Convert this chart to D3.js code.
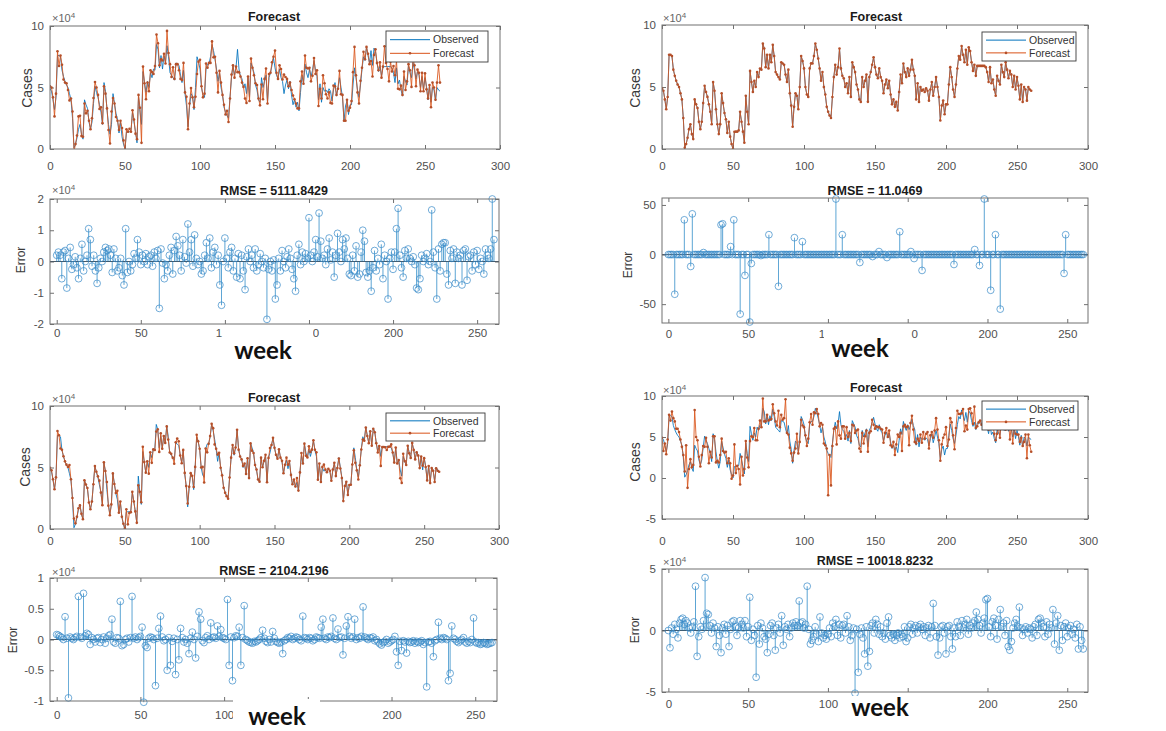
<!DOCTYPE html>
<html><head><meta charset="utf-8">
<script src="https://cdn.jsdelivr.net/npm/d3@7/dist/d3.min.js"></script>
<style>
body{margin:0;background:#fff;}
svg{display:block;font-family:"Liberation Sans",Arial,sans-serif;}
</style></head><body>
<svg id="c" width="1166" height="731"></svg>
<script>
// ---------------- DATA ----------------
// observed weekly cases, in units of 1e4 (weeks 0..260)
const observed = [
4.9,4.7,4.0,3.2,4.2,7.6,7.6,7.5,6.4,5.9,
5.5,5.2,5.0,4.5,4.0,2.5,0.1,0.4,0.9,1.6,
2.0,1.2,0.8,4.0,3.6,3.3,2.2,1.6,2.2,3.7,
5.1,4.6,4.2,3.6,3.0,2.0,5.4,4.7,3.2,2.0,
1.2,2.0,4.5,3.7,2.9,2.4,1.3,2.2,1.0,0.4,
0.0,1.4,1.4,1.4,1.5,3.0,2.2,1.4,0.5,4.3,
3.0,2.0,6.3,5.4,4.6,5.5,5.0,6.2,5.8,6.5,
6.4,8.5,8.1,6.6,7.6,6.5,7.6,7.0,8.4,7.5,
6.2,6.0,5.8,5.6,7.0,6.9,6.8,6.0,5.4,6.4,
4.5,3.5,1.8,3.4,4.5,4.3,3.2,5.0,7.5,7.1,
6.5,5.0,4.4,4.2,6.5,6.9,6.9,7.5,8.5,8.0,
7.3,6.5,5.5,6.2,5.0,4.4,3.4,3.0,2.7,2.5,
4.2,5.8,6.8,6.0,6.6,8.1,6.5,5.9,5.7,5.0,
5.3,4.5,5.8,4.2,7.0,6.6,6.2,5.2,4.8,4.0,
3.8,5.8,5.0,5.5,6.0,3.8,5.8,6.2,6.8,7.4,
6.6,6.0,5.7,6.5,5.8,5.5,4.5,5.2,5.6,4.9,
5.5,4.4,3.6,4.0,3.4,3.8,3.1,4.6,6.0,5.3,
6.9,6.2,5.8,6.5,5.9,6.4,7.2,6.4,5.9,4.0,
5.3,3.8,5.0,4.7,4.8,4.6,4.9,4.7,3.9,4.8,
5.4,4.3,5.0,5.8,5.0,4.2,2.3,3.5,3.9,2.8,
3.6,3.6,5.2,6.6,5.8,4.8,4.2,5.2,6.5,7.5,
7.2,8.3,7.6,7.0,8.0,6.8,8.2,7.9,7.0,6.3,
6.8,5.9,6.7,6.7,6.7,6.7,6.7,6.7,6.6,6.2,
5.4,6.6,5.3,5.6,4.8,4.3,5.9,5.5,5.2,6.8,
6.2,5.8,7.0,6.4,5.7,6.3,6.0,5.0,5.9,4.8,
5.8,5.1,4.0,5.2,3.8,5.0,4.8,3.9,5.0,4.8,4.7];

// forecast error (forecast - observed), model 1, units 1e4
const errorModel1 = [
0.2,0.3,0.2,-0.55,0.3,0.35,-0.85,0.1,0.45,-0.25,
-0.1,0.15,-0.2,-0.55,0.1,0.55,-0.3,0.0,0.2,1.05,
0.7,-0.15,0.2,-0.3,-0.7,-0.2,0.1,0.0,0.3,0.45,
0.35,0.4,0.2,-0.35,0.4,0.1,-0.3,-0.2,0.1,-0.45,
-0.75,1.05,-0.35,0.0,-0.3,-0.1,0.25,0.1,0.7,0.3,
-0.1,0.2,0.0,0.25,-0.1,0.15,0.2,-0.15,0.3,0.1,
0.35,-1.5,0.4,-0.05,-0.55,-0.1,-0.3,0.2,0.45,-0.4,
0.35,0.8,0.5,0.2,-0.3,0.7,0.15,-0.05,1.2,0.3,
0.7,-0.15,0.85,0.1,-0.1,0.0,-0.4,-0.3,0.2,0.6,
0.1,0.75,-0.2,0.3,0.45,-0.1,0.2,-0.75,-1.4,0.0,
0.75,0.1,-0.2,0.3,0.45,-0.3,0.1,-0.5,0.25,-0.55,
0.2,-0.3,-0.9,0.15,0.4,0.0,0.2,-0.2,0.4,-0.3,
-0.1,0.25,0.0,-0.2,0.1,-1.85,-0.25,0.0,-0.3,0.05,
-1.2,-0.75,0.1,-0.3,0.35,0.0,-0.2,0.15,0.4,0.1,
-0.25,-0.55,-0.95,0.2,0.55,-0.1,0.3,0.0,0.25,0.1,
1.4,0.2,0.0,0.3,0.7,0.15,1.55,0.65,0.1,0.2,
-0.1,0.4,0.75,0.05,0.3,-0.5,0.2,0.9,0.3,0.0,
0.7,0.4,0.75,0.1,-0.4,-0.45,0.2,-0.3,0.5,-0.5,
-0.4,0.3,1.0,0.65,-0.35,-0.5,-0.3,-0.95,-0.2,0.35,
-0.3,0.1,-0.1,0.55,-0.55,0.2,0.0,-1.2,0.1,0.3,
-0.25,0.3,1.05,1.7,0.2,-0.2,-0.5,0.35,0.1,0.4,
0.1,0.0,0.15,-0.1,-0.85,-0.9,-0.55,0.2,0.0,0.1,
0.25,-0.1,0.0,1.65,0.3,-0.2,-1.2,0.4,-0.3,0.55,
0.6,0.6,-0.4,-0.75,0.35,0.1,0.4,-0.7,0.3,0.1,
0.2,-0.75,0.35,0.4,-0.6,0.15,0.2,-0.3,0.3,-0.1,
0.35,-0.25,0.1,0.0,-0.4,0.4,0.2,0.1,0.4,2.0,0.7];

// model 2 error, raw cases
const errorModel2 = [
0,0,0,0,-40,0,0,0,0,0,
35,0,0,0,-12,41,0,0,0,0,
0,0,2,0,0,0,0,0,0,0,
0,0,0,30,31,0,0,0,0,8,
0,35,0,0,0,-60,0,0,-21,0,
0,-68,-9,0,0,0,0,0,-1,0,
0,0,0,20,0,0,0,0,0,-32,
0,0,0,0,0,0,0,0,0,17,
0,0,0,0,13,0,0,0,0,0,
0,0,0,0,0,0,0,0,0,0,
0,0,0,0,0,56,0,0,0,20,
0,0,0,0,0,0,0,0,0,0,
-8,0,0,0,0,0,0,0,-2,0,
0,0,3,0,0,0,0,-3,0,0,
0,0,0,0,0,23,0,0,0,0,
0,0,3,0,-4,0,0,0,0,-16,
0,0,0,0,0,0,0,0,0,0,
0,0,0,0,0,0,0,0,0,-10,
0,0,0,0,0,0,0,0,0,0,
0,0,5,0,0,-11,0,0,56,0,
0,0,-36,0,0,20,0,0,-55,0,
0,0,0,0,0,0,0,0,0,0,
0,0,0,0,0,0,0,0,0,0,
0,0,0,0,0,0,0,0,0,0,
0,0,0,0,0,0,0,0,-19,20,
0,0,0,0,0,0,0,0,0,0,0];

// model 3 error, units 1e4
const errorModel3 = [
0.08,0.07,0.05,0.03,0.0,0.37,0.02,-0.95,0.04,0.02,
0.0,0.03,0.05,0.7,0.04,0.02,0.75,0.06,0.1,0.08,
-0.08,0.03,0.0,-0.04,0.02,0.03,-0.05,0.0,0.04,-0.06,
0.02,0.06,0.08,0.33,-0.04,-0.06,0.03,0.02,0.62,-0.1,
-0.08,0.0,0.02,-0.04,0.03,0.7,0.02,0.04,0.0,0.03,
0.05,0.2,-1.02,-0.1,-0.13,0.02,0.04,0.03,0.0,-0.75,
0.02,0.18,0.38,0.04,-0.02,0.0,-0.5,0.03,-0.42,-0.03,
0.02,-0.57,0.0,-0.33,0.18,0.03,-0.04,0.0,-0.06,-0.23,
0.02,0.12,0.0,-0.3,0.05,0.45,0.33,-0.02,-0.05,0.03,
0.06,0.0,0.27,0.03,0.04,0.02,0.22,0.05,0.16,0.03,
0.02,0.0,0.65,-0.42,0.04,-0.67,0.03,0.06,0.05,0.2,
-0.42,0.03,0.55,0.0,-0.02,-0.04,-0.05,-0.06,-0.03,-0.04,
-0.02,0.0,0.03,0.15,0.02,-0.03,-0.05,0.0,-0.04,0.13,
0.02,-0.03,-0.05,-0.06,-0.04,-0.23,-0.02,0.0,0.03,0.02,
0.05,0.0,0.02,0.04,0.03,0.0,-0.02,0.38,0.03,0.02,
0.0,0.03,0.02,-0.02,0.0,0.04,0.03,0.02,0.2,0.33,
0.02,0.0,0.04,0.03,0.05,0.35,0.02,0.0,0.17,0.03,
0.04,-0.25,0.02,0.22,0.37,0.05,0.02,0.04,0.33,0.0,
0.03,0.02,0.05,0.53,0.04,0.02,0.0,0.03,0.02,0.04,
-0.02,0.0,-0.04,-0.07,-0.09,-0.05,-0.03,0.0,-0.06,-0.04,
-0.02,0.0,0.05,-0.2,-0.42,-0.03,-0.18,-0.02,-0.04,-0.22,
-0.03,-0.05,-0.04,-0.02,-0.06,-0.03,-0.05,-0.04,-0.02,-0.08,
-0.05,-0.77,-0.04,-0.03,-0.06,-0.28,-0.02,0.0,0.28,0.02,
0.0,0.03,0.02,0.0,-0.67,-0.55,0.22,0.02,0.0,-0.03,
-0.05,-0.02,0.0,0.03,-0.04,-0.06,-0.03,-0.05,0.0,0.35,
-0.04,-0.06,-0.05,-0.08,-0.07,-0.05,-0.06,-0.08,-0.07,-0.06,-0.05];

// model 4 error, units 1e4
const errorModel4 = [
0.0,-1.4,0.2,-0.3,0.5,0.1,-0.6,0.6,0.9,1.0,
0.5,0.8,0.6,0.2,-0.2,0.3,0.7,3.6,-2.1,-0.5,
0.3,0.1,0.8,4.3,1.4,1.3,0.4,-0.2,0.6,0.2,
-1.3,0.3,-0.4,-1.8,0.2,0.5,-0.3,0.4,-1.3,0.1,
0.7,0.8,0.3,-0.4,0.2,0.8,0.5,0.2,0.8,-0.5,
0.3,2.7,-0.8,0.1,-0.4,-3.8,0.4,-1.1,0.6,0.2,
-0.5,-0.7,-1.8,-0.3,0.4,0.6,-0.4,-1.6,0.2,0.5,
-0.2,1.2,-1.2,0.3,0.1,0.5,-0.5,0.2,0.6,0.4,
0.7,0.4,2.4,0.6,0.7,0.2,0.5,3.6,0.1,-1.1,
-0.8,-0.5,0.3,-0.3,-0.9,1.1,-0.2,-0.6,-0.4,-0.7,
-0.3,0.2,-0.5,0.6,0.3,0.9,-0.4,0.5,-0.6,0.4,
0.5,-0.2,1.2,0.3,-0.8,-0.4,0.2,-5.1,0.1,-3.4,
-0.3,0.2,-0.6,-1.9,0.3,-2.9,-1.7,0.4,0.6,-0.2,
0.9,0.5,-0.3,0.3,-0.5,-0.2,-0.7,0.6,1.1,-0.4,
-0.6,-0.3,-0.8,-0.4,-0.2,-0.6,-0.3,-0.5,0.3,-0.9,
-0.6,0.3,0.5,-0.3,0.2,0.4,-0.2,0.3,0.5,0.1,
0.3,-0.4,0.2,0.4,-0.6,0.3,2.2,0.4,-0.5,-2.0,
-0.6,0.3,0.4,-0.2,-1.9,0.3,0.4,-0.5,-1.5,0.2,
-0.5,0.7,0.3,-0.4,0.8,0.2,0.5,0.9,-0.3,0.4,
0.2,0.6,0.8,1.5,0.9,0.4,-0.2,0.6,1.0,2.5,
2.6,0.3,-0.5,0.7,1.0,0.4,-0.7,0.9,1.7,0.3,
0.6,-0.4,0.8,-1.3,-1.6,-0.9,0.2,0.6,0.9,0.3,
1.9,0.2,-0.4,0.1,0.3,-0.2,0.2,0.1,-0.6,0.3,
0.5,-0.4,0.9,1.0,0.6,0.3,-0.5,0.7,-0.3,0.5,
0.2,1.7,-1.1,0.6,1.2,-1.6,0.4,-0.8,0.3,0.6,
-0.5,0.2,0.4,-0.3,0.1,-0.6,0.5,-1.5,0.3,-0.8,-1.5];

const errors = [errorModel1, errorModel2, errorModel3, errorModel4];
const errorUnit = [1, 1e-4, 1, 1];          // conversion of each error array to 1e4 units
const rmseLabels = ["RMSE = 5111.8429","RMSE = 11.0469","RMSE = 2104.2196","RMSE = 10018.8232"];
const seriesNames = ["Observed","Forecast"];
const forecastXTicks = [0,50,100,150,200,250,300];
const errorXTicks = [0,50,100,150,200,250];
const casesTicks01 = [0,5,10];
const casesTicks4 = [-5,0,5,10];
const errTicks = [[-2,-1,0,1,2],[-50,0,50],[-1,-0.5,0,0.5,1],[-5,0,5]];
const errDomains = [[-2,2],[-69,57],[-1,1],[-5,5]];

// ---------------- LAYOUT ----------------
const panels = [
 {k:"f",m:0,x0:50,x1:500,y0:26,y1:149,yd:[0,10],yt:casesTicks01,lab:17,leg:[386,31,488,62],ti:[274,17],mul:[52,18],yl:[27,88,"Cases",14]},
 {k:"e",m:0,x0:50,x1:499,y0:199,y1:324,lab:9,ti:[274,191],mul:[52,190],yl:[21,260,"Error",12],wk:[263,358.5],cov:[224,328,89,40]},
 {k:"f",m:1,x0:662,x1:1088,y0:25,y1:149,yd:[0,10],yt:casesTicks01,lab:17,leg:[982,32,1076,61],ti:[876,17],mul:[663,18],yl:[635,88,"Cases",14]},
 {k:"e",m:1,x0:662,x1:1088,y0:198,y1:323,lab:11,ti:[875,191],mul:null,yl:[628,265,"Error",12],wk:[860,357],cov:[824,328,86,40]},
 {k:"f",m:2,x0:50,x1:499,y0:406,y1:529,yd:[0,10],yt:casesTicks01,lab:12,leg:[386,413,485,441],ti:[274,398],mul:[52,399],yl:[25,467,"Cases",14]},
 {k:"e",m:2,x0:50,x1:497,y0:578,y1:701,lab:14,ti:[274,571],mul:[52,572],yl:[13,640,"Error",12],wk:[277,725],cov:[233,699,87,32]},
 {k:"f",m:3,x0:662,x1:1088,y0:396,y1:519,yd:[-5,10],yt:casesTicks4,lab:22,leg:[982,401,1078,430],ti:[876,388],mul:[663,390],yl:[635,462,"Cases",14]},
 {k:"e",m:3,x0:662,x1:1088,y0:569,y1:692,lab:12,ti:[875,561],mul:[663,562],yl:[635,630,"Error",12],wk:[880,716],cov:[842,696,120,35]}
];

const BLUE="#0072BD", ORANGE="#D95319", AX="#707070", TXT="#505050";
const svg = d3.select("#c");
svg.append("rect").attr("width",1166).attr("height",731).attr("fill","#fff");
const weeks = observed.map((_,i)=>i);

// keep only the characters of a tick label that are not hidden under the white "week" patch
function trimUnderCover(sel, cov){
  const [cx0,cy0,cw,ch]=cov;
  sel.each(function(){
    const node=this, n=node.getNumberOfChars();
    const ctm=node.getCTM();
    const bb=node.getBBox();
    const top=ctm.f+bb.y, bot=top+bb.height;
    if(bot<cy0+2 || top>cy0+ch) return;
    const keep=[];
    for(let i=0;i<n;i++){
      const ext=node.getExtentOfChar(i);
      const mid=ctm.e+ext.x+ext.width/2;
      keep.push(!(mid>=cx0 && mid<=cx0+cw));
    }
    if(keep.every(k=>k)) return;
    if(!keep.some(k=>k)){ d3.select(node).remove(); return; }
    const first=keep.indexOf(true);
    const startX=node.getExtentOfChar(first).x;
    const txt=node.textContent.split("").filter((c,i)=>keep[i]).join("");
    d3.select(node).attr("text-anchor","start").attr("x",startX).text(txt);
  });
}

panels.forEach((p,pi)=>{
  const g = svg.append("g");
  const isF = p.k==="f";
  const xd = isF ? [0,300] : [-4,263];
  const yd = isF ? p.yd : errDomains[p.m];
  const yt = isF ? p.yt : errTicks[p.m];
  const xt = isF ? forecastXTicks : errorXTicks;
  const x = d3.scaleLinear().domain(xd).range([p.x0,p.x1]);
  const y = d3.scaleLinear().domain(yd).range([p.y1,p.y0]);
  const cid = "clip"+pi;
  g.append("clipPath").attr("id",cid).append("rect")
    .attr("x",p.x0).attr("y",p.y0).attr("width",p.x1-p.x0).attr("height",p.y1-p.y0);

  // axes
  const fmt = d=>String(d);
  const bx = g.append("g").attr("transform",`translate(0,${p.y1})`)
    .call(d3.axisBottom(x).tickValues(xt).tickSizeInner(-4).tickSizeOuter(0).tickFormat(fmt));
  bx.selectAll("text").attr("y",p.lab).attr("dy","0.35em");
  const tx = g.append("g").attr("transform",`translate(0,${p.y0})`)
    .call(d3.axisTop(x).tickValues(xt).tickSizeInner(-4).tickSizeOuter(0).tickFormat(""));
  const ly = g.append("g").attr("transform",`translate(${p.x0},0)`)
    .call(d3.axisLeft(y).tickValues(yt).tickSizeInner(-4).tickSizeOuter(0).tickPadding(6).tickFormat(fmt));
  const ry = g.append("g").attr("transform",`translate(${p.x1},0)`)
    .call(d3.axisRight(y).tickValues(yt).tickSizeInner(-4).tickSizeOuter(0).tickFormat(""));
  [bx,tx,ly,ry].forEach(a=>{
    a.select(".domain").remove();
    a.attr("color",AX).attr("font-size",11.5).attr("font-family","Liberation Sans, Arial, sans-serif");
    a.selectAll("text").attr("fill",TXT);
  });

  if(isF){
    const fc = observed.map((v,i)=>v + errors[p.m][i]*errorUnit[p.m]);
    const line = d3.line().x((d,i)=>x(weeks[i])).y(d=>y(d));
    const pg = g.append("g").attr("clip-path",`url(#${cid})`);
    pg.append("path").attr("d",line(observed)).attr("fill","none")
      .attr("stroke",BLUE).attr("stroke-width",1).attr("opacity",0.85);
    pg.append("path").attr("d",line(fc)).attr("fill","none")
      .attr("stroke",ORANGE).attr("stroke-width",1).attr("opacity",0.85);
    pg.selectAll("circle.dot").data(fc).join("circle").attr("class","dot")
      .attr("cx",(d,i)=>x(weeks[i])).attr("cy",d=>y(d)).attr("r",1.3).attr("fill","#b5502a");
    // legend
    const [lx0,ly0,lx1,ly1]=p.leg;
    g.append("rect").attr("x",lx0).attr("y",ly0).attr("width",lx1-lx0).attr("height",ly1-ly0)
      .attr("fill","#fff").attr("stroke","#3a3a3a").attr("stroke-width",0.9);
    const h=(ly1-ly0);
    seriesNames.forEach((nm,j)=>{
      const yy = ly0 + h*(j===0?0.28:0.72);
      g.append("line").attr("x1",lx0+4).attr("x2",lx0+44).attr("y1",yy).attr("y2",yy)
        .attr("stroke",j===0?BLUE:ORANGE).attr("stroke-width",1);
      if(j===1) g.append("circle").attr("cx",lx0+24).attr("cy",yy).attr("r",1.3).attr("fill","#b5502a");
      g.append("text").attr("x",lx0+47).attr("y",yy).attr("dy","0.35em")
        .attr("font-size",10.5).attr("fill","#333").text(nm);
    });
  } else {
    const e = errors[p.m];
    g.append("line").attr("x1",p.x0).attr("x2",p.x1).attr("y1",y(0)).attr("y2",y(0))
      .attr("stroke","#4d5a66").attr("stroke-width",1);
    g.selectAll("line.stem").data(e).join("line").attr("class","stem")
      .attr("x1",(d,i)=>x(weeks[i])).attr("x2",(d,i)=>x(weeks[i]))
      .attr("y1",y(0)).attr("y2",d=>y(d))
      .attr("stroke",BLUE).attr("stroke-width",0.8).attr("opacity",0.8);
    g.selectAll("circle.mk").data(e).join("circle").attr("class","mk")
      .attr("cx",(d,i)=>x(weeks[i])).attr("cy",d=>y(d)).attr("r",3.4)
      .attr("fill","none").attr("stroke","#3b8bc9").attr("stroke-width",0.9).attr("opacity",0.8);
  }

  // box
  g.append("rect").attr("x",p.x0).attr("y",p.y0).attr("width",p.x1-p.x0).attr("height",p.y1-p.y0)
    .attr("fill","none").attr("stroke",AX).attr("stroke-width",1);

  // title
  g.append("text").attr("x",p.ti[0]).attr("y",p.ti[1]).attr("dy","0.35em")
    .attr("text-anchor","middle").attr("font-weight","bold").attr("font-size",12.5).attr("fill","#1a1a1a")
    .text(isF ? "Forecast" : rmseLabels[p.m]);
  // multiplier
  if(p.mul){
    const t = g.append("text").attr("x",p.mul[0]).attr("y",p.mul[1]).attr("dy","0.35em")
      .attr("font-size",11).attr("fill","#666");
    t.append("tspan").text("\u00d710");
    t.append("tspan").attr("font-size",8).attr("dy","-4").text("4");
  }
  // y label
  g.append("text").attr("transform",`translate(${p.yl[0]},${p.yl[1]}) rotate(-90)`)
    .attr("text-anchor","middle").attr("dy","0.35em").attr("font-size",p.yl[3]).attr("fill","#3a3a3a")
    .text(p.yl[2]);
  // week label with its white backing patch (hides part of the tick labels, as in the source image)
  if(p.wk){
    trimUnderCover(bx.selectAll("text"), p.cov);
    g.append("rect").attr("x",p.cov[0]).attr("y",p.cov[1]).attr("width",p.cov[2]).attr("height",p.cov[3]).attr("fill","#fff");
    g.append("text").attr("x",p.wk[0]).attr("y",p.wk[1]).attr("text-anchor","middle")
      .attr("font-family","Lato, 'Open Sans', sans-serif").attr("font-weight","bold").attr("font-size",24)
      .attr("fill","#111").text("week");
  }
});
</script>
</body></html>
